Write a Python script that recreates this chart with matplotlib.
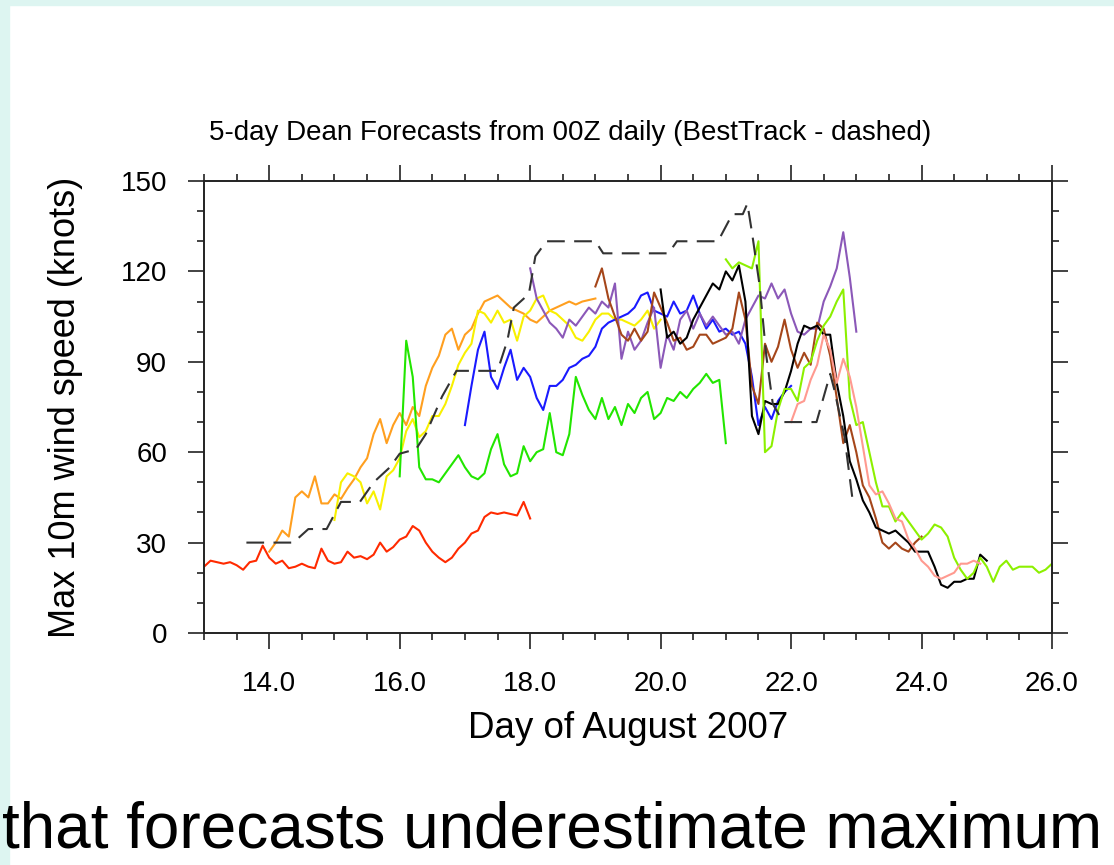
import numpy as np
import matplotlib
matplotlib.use("Agg")
from matplotlib import pyplot as plt
from matplotlib import font_manager
from matplotlib.patches import Rectangle
from matplotlib.ticker import MultipleLocator, FormatStrFormatter

plt.rcParams['font.family'] = ['Liberation Sans', 'DejaVu Sans']


def has_font(name):
    try:
        font_manager.findfont(name, fallback_to_default=False)
        return True
    except ValueError:
        return False


# forecast output every 0.1 day, one 5-day run per 00Z start
step = 0.1

red_start = 13.0
red_kt = [22, 24, 23.5, 23, 23.5, 22.5, 21, 23.5, 24, 29,
          25, 23, 24, 21.5, 22, 23, 22, 21.5, 28, 24,
          23, 23.5, 27, 25, 25.5, 24.5, 26, 30, 27, 28.5,
          31, 32, 35.5, 34, 30, 27, 25, 23.5, 25, 28,
          30, 33, 34, 38.5, 40, 39.5, 40, 39.5, 39, 43.5, 38]

orange_start = 14.0
orange_kt = [27, 30, 34, 32, 45, 47, 45, 52, 43, 43,
             46, 44.5, 48, 51, 55, 58, 66, 71, 63, 69,
             73, 69, 75, 72, 82, 88, 92, 99, 101, 94,
             99, 101, 106, 110, 111, 112, 110, 108, 107, 106,
             104, 103, 105, 107, 108, 109, 110, 109, 110, 110.5, 111]

yellow_start = 15.0
yellow_kt = [37.5, 50, 53, 52, 50, 43, 47, 41, 52, 54,
             58, 67, 71, 65, 67, 72, 72, 76, 82, 89,
             93, 96, 107, 106, 103, 107, 103, 104, 97, 105,
             107, 111, 112, 107, 106, 104, 102, 98, 97, 100,
             104, 106, 106, 104, 104, 103, 102, 104, 107, 101, 104]

green_start = 16.0
green_kt = [52, 97, 85, 55, 51, 51, 50, 53, 56, 59,
            55, 52, 51, 53, 61, 66, 56, 52, 53, 62,
            57, 60, 61, 73, 60, 59, 66, 85, 79, 74,
            71, 78, 71, 75, 69, 76, 73, 78, 80, 71,
            73, 78, 77, 80, 78, 81, 83, 86, 83, 84, 63]

blue_start = 17.0
blue_kt = [69, 82, 94, 100, 85, 81, 88, 94, 84, 88,
           85, 78, 74, 82, 82, 84, 88, 89, 91, 92,
           95, 101, 103, 104, 105, 106, 108, 112, 113, 107,
           106, 105, 110, 106, 107, 112, 106, 101, 104, 100,
           101, 99, 100, 96, 85, 69, 75, 71, 77, 80, 82]

purple_start = 18.0
purple_kt = [121, 111, 107, 103, 101, 98, 104, 102, 105, 108,
             106, 110, 108, 116, 91, 100, 94, 97, 103, 108,
             88, 99, 94, 104, 107, 101, 106, 102, 105, 102,
             99, 100, 96, 104, 108, 112, 111, 116, 111, 114,
             106, 100, 99, 101, 101, 110, 115, 121, 133, 118, 100]

brown_start = 19.0
brown_kt = [115, 121, 111, 105, 99, 97, 101, 97, 100, 113,
            108, 103, 97, 98, 94, 95, 99, 99, 96, 97,
            98, 101, 113, 104, 82, 76, 96, 90, 95, 104,
            94, 88, 93, 89, 103, 101, 92, 78, 63, 69,
            60, 49, 45, 38, 30, 28, 30, 28, 27, 30, 32]

black_start = 20.0
black_kt = [114, 98, 100, 96, 98, 104, 108, 112, 116, 114,
            120, 117, 122, 110, 72, 66, 77, 76, 76, 80,
            87, 96, 102, 101, 102, 99, 99, 83, 72, 57,
            51, 44, 40, 35, 34, 33, 34, 32, 30, 27,
            27, 27, 22, 16, 15, 17, 17, 18, 18, 26, 24]

lime_start = 21.0
lime_kt = [124, 121, 123, 122, 121, 130, 60, 62, 74, 81,
           81, 77, 88, 90, 97, 102, 105, 110, 114, 78,
           69, 70, 60, 50, 42, 42, 37, 40, 37, 34,
           31, 33, 36, 35, 32, 25, 21, 18, 20, 25,
           22, 17, 22, 24, 21, 22, 22, 22, 20, 21, 23]

pink_start = 22.0
pink_kt = [70, 76, 77, 84, 89, 99, 94, 83, 91, 85,
           75, 62, 49, 46, 47, 43, 38, 37, 31, 28,
           24, 22, 19, 18, 19, 20, 23, 23, 24, 23]

# best track, dashed
bt_day = [13.65, 14.37, 14.6, 14.88, 15.1, 15.39, 15.6, 15.85, 16.0, 16.25,
          16.4, 16.65, 16.87, 17.5, 17.65, 17.75, 17.98, 18.08, 18.25, 19.0,
          19.12, 20.12, 20.25, 20.88, 21.1, 21.26, 21.33, 21.4, 21.52, 21.62,
          21.72, 21.88, 22.39, 22.6, 22.66, 22.82, 22.95]
bt_kt = [30, 30, 34.5, 34.5, 43.5, 43.5, 50, 55, 59.5, 61,
         66, 78.5, 87, 87, 97, 108, 112.5, 125, 130, 130,
         126, 126, 130, 130, 139, 139, 142.5, 133, 115, 92,
         76, 70, 70, 86, 81, 65, 43]

runs = [
    (red_start, red_kt, '#ff2a00'),
    (orange_start, orange_kt, '#ff9f1f'),
    (yellow_start, yellow_kt, '#f8f000'),
    (green_start, green_kt, '#22e600'),
    (blue_start, blue_kt, '#1a1aff'),
    (purple_start, purple_kt, '#8b58b8'),
    (brown_start, brown_kt, '#a5461a'),
    (black_start, black_kt, '#000000'),
    (lime_start, lime_kt, '#8cf000'),
    (pink_start, pink_kt, '#ff9a90'),
]

fig = plt.figure(figsize=(11.14, 8.65), dpi=100)
fig.patches.append(Rectangle((0, 1 - 5 / 865), 1, 5 / 865, transform=fig.transFigure,
                             color='#ddf5f1', zorder=0))
fig.patches.append(Rectangle((0, 0), 9 / 1114, 1, transform=fig.transFigure,
                             color='#ddf5f1', zorder=0))

ax = fig.add_axes([204 / 1114, 232 / 865, 848 / 1114, 452 / 865])

for start, kt, col in runs:
    days = start + step * np.arange(len(kt))
    ax.plot(days, kt, color=col, lw=1.5)

ax.plot(bt_day, bt_kt, color='#333333', lw=1.5, dashes=(8.5, 4.5))

ax.set_xlim(13, 26)
ax.set_ylim(0, 150)
ax.xaxis.set_major_locator(MultipleLocator(2))
ax.xaxis.set_minor_locator(MultipleLocator(0.5))
ax.xaxis.set_major_formatter(FormatStrFormatter('%.1f'))
ax.yaxis.set_major_locator(MultipleLocator(30))
ax.yaxis.set_minor_locator(MultipleLocator(10))
ax.tick_params(which='both', direction='out', top=True, right=True,
               labeltop=False, labelright=False, color='#222222', width=1.2)
ax.tick_params(which='major', length=11.5, labelsize=20)
ax.tick_params(axis='x', which='major', pad=16)
ax.tick_params(axis='y', which='major', pad=15)
ax.tick_params(which='minor', length=5)
for sp in ax.spines.values():
    sp.set_linewidth(1.4)
    sp.set_color('#222222')

ax.set_xlabel('Day of August 2007', fontsize=26.5)
ax.xaxis.set_label_coords(0.5, -0.172)
ax.set_ylabel('Max 10m wind speed (knots)', fontsize=26)
ax.yaxis.set_label_coords(-0.143, 0.5)

fig.text(570 / 1114, 1 - 133 / 865, '5-day Dean Forecasts from 00Z daily (BestTrack - dashed)',
         fontsize=20, ha='center', va='center')

if has_font('Liberation Sans Narrow'):
    cap_family, cap_size = ['Liberation Sans Narrow', 'DejaVu Sans'], 55
else:
    cap_family, cap_size = ['Liberation Sans', 'DejaVu Sans'], 46
fig.text(2 / 1114, 1 - 847 / 865, 'that forecasts underestimate maximum',
         fontsize=cap_size, family=cap_family, ha='left', va='baseline')

fig.savefig('out.png', dpi=100)
